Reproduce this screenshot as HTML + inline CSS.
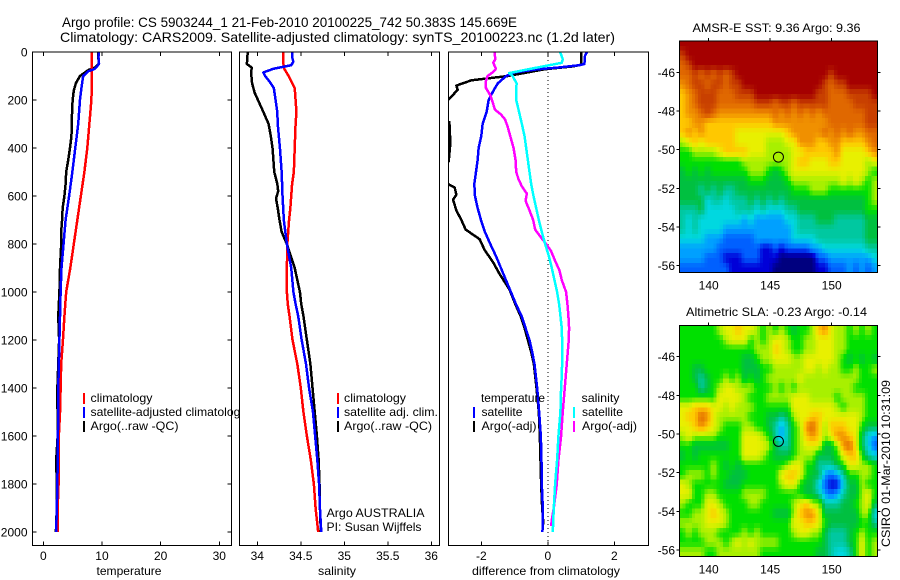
<!DOCTYPE html>
<html>
<head>
<meta charset="utf-8">
<style>
html,body{margin:0;padding:0;background:#fff;}
svg{display:block;}
text{font-family:"Liberation Sans",sans-serif;font-size:12px;fill:#000;}
.title{font-size:14px;}
</style>
</head>
<body>
<svg id="chart" xmlns="http://www.w3.org/2000/svg" width="900" height="580" viewBox="0 0 900 580">
  <rect width="900" height="580" fill="#fff"/>
  <text class="title" x="62" y="27" textLength="455" lengthAdjust="spacingAndGlyphs">Argo profile: CS 5903244_1 21-Feb-2010 20100225_742 50.383S 145.669E</text>
  <text class="title" x="60" y="42" textLength="555" lengthAdjust="spacingAndGlyphs">Climatology: CARS2009. Satellite-adjusted climatology: synTS_20100223.nc (1.2d later)</text>
  <g id="layer-panels"></g>
  <g id="layer-maps"></g>
  <g id="layer-legend">
    <text x="129" y="575" text-anchor="middle" textLength="65" lengthAdjust="spacingAndGlyphs">temperature</text>
    <text x="337" y="575" text-anchor="middle" textLength="38" lengthAdjust="spacingAndGlyphs">salinity</text>
    <text x="546" y="575" text-anchor="middle" textLength="148" lengthAdjust="spacingAndGlyphs">difference from climatology</text>

    <rect x="83" y="393" width="2" height="11" fill="#f00"/>
    <rect x="83" y="407" width="2" height="11" fill="#00f"/>
    <rect x="83" y="421" width="2" height="11" fill="#000"/>
    <text x="90.5" y="402" textLength="62" lengthAdjust="spacingAndGlyphs">climatology</text>
    <text x="90.5" y="416" textLength="156" lengthAdjust="spacingAndGlyphs">satellite-adjusted climatology</text>
    <text x="90.5" y="430" textLength="88" lengthAdjust="spacingAndGlyphs">Argo(..raw -QC)</text>
  </g>
  <g id="layer-over">
    <rect x="337" y="393" width="2" height="11" fill="#f00"/>
    <rect x="337" y="407" width="2" height="11" fill="#00f"/>
    <rect x="337" y="421" width="2" height="11" fill="#000"/>
    <text x="344" y="402" textLength="62" lengthAdjust="spacingAndGlyphs">climatology</text>
    <text x="344" y="416" textLength="94" lengthAdjust="spacingAndGlyphs">satellite adj. clim.</text>
    <text x="344" y="430" textLength="88" lengthAdjust="spacingAndGlyphs">Argo(..raw -QC)</text>
    <text x="326.5" y="517" textLength="98" lengthAdjust="spacingAndGlyphs">Argo AUSTRALIA</text>
    <text x="326.5" y="531" textLength="95" lengthAdjust="spacingAndGlyphs">PI: Susan Wijffels</text>

    <text x="481" y="402" textLength="64" lengthAdjust="spacingAndGlyphs">temperature</text>
    <rect x="473" y="407" width="2" height="11" fill="#00f"/>
    <rect x="473" y="421" width="2" height="11" fill="#000"/>
    <text x="481.5" y="416" textLength="41" lengthAdjust="spacingAndGlyphs">satellite</text>
    <text x="481.5" y="430" textLength="55" lengthAdjust="spacingAndGlyphs">Argo(-adj)</text>
    <text x="581.5" y="402" textLength="38" lengthAdjust="spacingAndGlyphs">salinity</text>
    <rect x="573" y="407" width="2" height="11" fill="#0ff"/>
    <rect x="573" y="421" width="2" height="11" fill="#f0f"/>
    <text x="582" y="416" textLength="41" lengthAdjust="spacingAndGlyphs">satellite</text>
    <text x="582" y="430" textLength="55" lengthAdjust="spacingAndGlyphs">Argo(-adj)</text>

    <text x="776.5" y="32" text-anchor="middle" textLength="168" lengthAdjust="spacingAndGlyphs">AMSR-E SST: 9.36 Argo: 9.36</text>
    <text x="776.5" y="316" text-anchor="middle" textLength="181" lengthAdjust="spacingAndGlyphs">Altimetric SLA: -0.23 Argo: -0.14</text>
    <text transform="translate(890,547) rotate(-90)" textLength="167" lengthAdjust="spacingAndGlyphs">CSIRO 01-Mar-2010 10:31:09</text>
  </g>
</svg>
<script>
// ---------- Chart data ----------
const depthTicks = [0,200,400,600,800,1000,1200,1400,1600,1800,2000];
const temperatureTicks = [0,10,20,30];
const salinityTicks = [34,34.5,35,35.5,36];
const salinityTickLabels = ['34','34.5','35','35.5','36'];
const differenceTicks = [-2,0,2];
const lonTicks = [140,145,150];
const latTicks = [46,48,50,52,54,56];

const tempClimDepth = [0,100,200,300,400,500,600,700,800,900,1000,1100,1200,1300,1400,1500,1600,1800,1900,2000];
const tempClimValue = [8.3,8.3,8.2,7.85,7.5,7.0,6.4,5.8,5.2,4.6,3.9,3.6,3.35,3.05,2.95,2.85,2.65,2.6,2.45,2.45];
const tempSatDepth = [0,20,50,70,80,100,150,200,300,400,500,600,700,800,900,1000,1200,1400,1600,1800,2000];
const tempSatValue = [9.5,9.4,9.5,8.8,7.7,6.8,6.5,6.25,5.95,5.45,4.95,4.4,3.8,3.45,3.1,2.95,2.75,2.55,2.5,2.4,2.2];
const tempArgoDepth = [0,50,65,75,100,130,160,200,250,300,350,400,450,500,550,600,650,700,750,800,850,900,1000,1100,1200,1400,1600,1700,1800,1900,2000];
const tempArgoValue = [9.35,9.45,8.8,7.7,6.25,5.55,5.2,5.0,4.9,4.85,4.8,4.55,4.25,3.9,3.8,3.6,3.3,3.2,3.05,3.05,2.95,2.85,2.75,2.55,2.7,2.4,2.45,2.2,2.3,2.3,2.15];

const salClimDepth = [0,50,70,100,150,200,250,300,400,500,550,600,650,700,750,800,900,1000,1050,1100,1200,1300,1400,1500,1600,1700,1800,1900,2000];
const salClimValue = [34.3,34.3,34.31,34.36,34.43,34.44,34.45,34.44,34.43,34.42,34.4,34.39,34.38,34.365,34.355,34.345,34.34,34.34,34.35,34.37,34.405,34.46,34.5,34.53,34.57,34.615,34.65,34.67,34.7];
const salSatDepth = [0,30,40,55,70,85,100,125,150,200,250,300,400,500,600,700,800,900,1000,1050,1100,1200,1300,1400,1500,1600,1700,1800,1900,2000];
const salSatValue = [34.4,34.405,34.415,34.39,34.185,34.07,34.09,34.145,34.19,34.21,34.23,34.235,34.26,34.28,34.29,34.305,34.34,34.39,34.415,34.44,34.47,34.51,34.56,34.595,34.64,34.665,34.69,34.71,34.72,34.735];
const salArgoDepth = [0,50,65,90,130,170,210,250,300,350,400,450,500,550,580,610,650,700,750,800,850,900,950,1000,1050,1100,1200,1300,1400,1500,1600,1700,1800,1900,2000];
const salArgoValue = [33.89,33.88,33.935,33.93,33.94,33.97,34.02,34.07,34.13,34.155,34.175,34.185,34.195,34.23,34.24,34.215,34.235,34.255,34.28,34.34,34.385,34.43,34.46,34.49,34.505,34.53,34.57,34.61,34.635,34.66,34.685,34.705,34.715,34.72,34.73];

const diffTempArgoDepth = [0,53,60,72,100,118,140,158,197,220,290,292,380,455,480,550,565,595,615,660,700,740,780,825,875,925,990,1050,1100,1150,1200,1250,1300,1400,1500,1600,1700,1800,1900,1970];
const diffTempArgoValue = [1.0,1.0,0.75,-0.1,-1.2,-2.3,-2.75,-2.71,-2.98,-3.2,-3.2,-2.96,-2.93,-2.98,-3.2,-3.0,-2.8,-2.75,-2.85,-2.75,-2.6,-2.47,-2.05,-1.9,-1.65,-1.45,-1.15,-0.98,-0.82,-0.7,-0.6,-0.5,-0.42,-0.34,-0.27,-0.24,-0.22,-0.2,-0.17,-0.13];
const diffTempSatDepth = [0,15,50,55,65,72,85,100,130,160,200,250,300,350,400,450,500,550,600,650,700,750,800,850,900,950,1000,1050,1100,1150,1200,1250,1300,1400,1500,1600,1700,1800,1900,2000];
const diffTempSatValue = [1.18,1.12,1.1,0.95,0.3,-0.3,-1.0,-1.25,-1.5,-1.63,-1.78,-1.84,-1.96,-2.0,-2.08,-2.11,-2.16,-2.21,-2.19,-2.11,-2.01,-1.89,-1.73,-1.56,-1.41,-1.26,-1.11,-0.96,-0.79,-0.67,-0.55,-0.47,-0.4,-0.32,-0.26,-0.21,-0.19,-0.18,-0.15,-0.16];
const diffSalArgoDepth = [0,30,45,70,85,100,125,150,180,200,240,260,280,310,350,400,450,500,530,560,590,620,660,700,740,770,800,830,870,910,950,1000,1050,1100,1150,1200,1250,1300,1350,1400,1450,1500,1600,1700,1800,1900,1950,1975];
const diffSalArgoValue = [-1.6,-1.58,-1.64,-1.56,-1.66,-1.81,-1.87,-1.86,-1.73,-1.68,-1.59,-1.41,-1.29,-1.21,-1.13,-1.03,-0.97,-0.95,-0.88,-0.78,-0.63,-0.67,-0.55,-0.44,-0.38,-0.22,-0.05,0.1,0.22,0.35,0.42,0.55,0.59,0.62,0.64,0.63,0.6,0.57,0.54,0.51,0.48,0.45,0.4,0.32,0.27,0.18,0.12,0.1];
const diffSalSatDepth = [0,30,45,75,88,100,130,200,240,300,350,400,450,500,550,600,650,700,750,800,850,900,950,1000,1050,1100,1150,1200,1300,1350,1400,1500,1550,1600,1700,1800,1900,2000];
const diffSalSatValue = [0.37,0.45,0.42,-0.7,-1.16,-1.06,-0.94,-0.95,-0.88,-0.78,-0.7,-0.65,-0.6,-0.55,-0.5,-0.43,-0.35,-0.27,-0.18,-0.08,0.03,0.12,0.2,0.28,0.34,0.38,0.42,0.43,0.43,0.42,0.4,0.38,0.35,0.32,0.28,0.22,0.18,0.15];

// Map values, expressed in colour-scale levels (0 = coldest/lowest, 14 = warmest/highest)
const sstCells = [
[14,14,14,14,14,14,14,14,14,14,14,14,14,14,14,14,14,14,14,14,14,14,14,14,14,14,14,14,14,14,14,14],
[13,14,14,14,14,14,14,14,14,14,14,14,14,14,14,14,14,14,14,14,14,14,14,14,14,14,14,14,14,14,14,14],
[12,13,14,14,14,14,14,14,14,14,14,14,14,14,14,14,14,14,14,14,14,14,14,14,14,14,14,14,14,14,14,14],
[12,12,13,12,13,12,13,12,13,14,14,14,14,14,14,14,14,14,14,14,14,14,14,14,13,14,14,14,14,14,14,14],
[11,12,13,13,12,13,13,12,13,13,14,14,14,14,14,14,14,14,14,14,14,14,14,13,12,13,13,14,14,14,14,14],
[10,11,12,13,13,13,12,12,12,13,13,13,14,14,14,14,14,14,14,14,14,14,13,13,12,12,12,13,13,13,13,14],
[10,11,12,13,13,13,12,12,12,12,12,12,13,13,13,12,13,13,12,13,13,13,13,13,12,12,12,12,13,13,13,13],
[10,11,11,12,13,12,11,11,11,11,11,11,11,11,11,12,11,12,11,12,11,12,11,12,12,12,12,12,12,12,13,13],
[10,10,11,11,10,10,10,10,10,10,10,10,10,10,10,11,11,11,11,11,11,11,11,11,12,12,12,12,12,12,13,13],
[10,11,10,11,10,10,10,10,10,9,9,9,9,9,9,9,9,10,11,11,11,11,11,12,11,12,11,12,11,11,12,12],
[8,9,10,9,10,10,10,10,10,9,9,9,9,9,8,8,8,9,9,11,11,11,10,10,11,11,10,10,10,10,11,12],
[7,7,8,8,8,8,9,10,10,10,10,9,9,9,8,8,8,8,9,9,10,10,10,10,10,11,9,9,9,9,10,11],
[7,7,7,7,7,7,7,7,7,7,8,8,8,8,8,8,8,8,9,10,10,9,9,9,10,10,9,9,9,9,8,9],
[6,7,6,7,6,7,7,7,7,7,7,8,8,8,7,6,7,8,9,9,9,9,9,9,9,9,9,9,9,9,8,7],
[6,6,6,6,6,6,6,6,6,6,6,7,7,7,6,6,6,7,8,8,8,8,8,8,8,8,9,8,9,8,7,8],
[6,6,6,5,6,5,6,5,5,6,6,6,6,6,6,6,6,6,7,7,7,8,8,8,7,7,7,7,7,7,7,8],
[6,6,6,6,4,5,5,4,5,5,5,6,5,6,5,6,5,6,6,6,6,6,6,6,6,6,6,6,6,6,7,8],
[5,5,5,6,4,4,4,4,4,5,5,5,4,5,4,4,4,5,5,6,6,6,6,6,6,6,6,6,6,6,7,7],
[5,4,5,4,4,4,4,4,4,4,3,4,3,3,3,3,3,4,4,5,5,5,6,6,6,5,5,5,5,5,6,6],
[5,4,5,4,4,4,4,3,3,3,3,3,3,3,3,3,3,3,4,5,5,5,5,5,5,5,5,5,5,5,6,6],
[4,4,4,4,3,3,3,2,2,2,2,2,3,3,3,3,3,3,4,4,4,4,5,5,5,5,5,5,5,5,6,6],
[3,3,3,3,3,3,2,2,2,2,2,2,2,1,1,2,1,2,2,2,2,3,3,4,4,4,4,4,4,4,5,5],
[3,3,3,3,2,2,2,1,1,1,2,2,2,1,1,1,0,0,0,0,0,0,2,2,3,3,3,3,3,3,3,4],
[2,2,2,2,2,2,2,2,1,1,1,1,1,1,1,0,0,0,0,0,0,0,1,1,2,2,2,3,2,3,2,3]
];
const slaCells = [
[7,7,7,7,7,7,8,9,9,10,9,9,8,7,8,7,8,7,6,7,7,8,10,11,9,8,8,7,8,7,8,7],
[7,7,7,7,7,7,7,8,9,9,9,7,8,7,8,9,9,8,7,7,8,8,9,9,9,8,8,7,7,7,7,7],
[7,7,7,7,7,7,7,7,7,7,7,7,8,8,8,10,9,8,7,7,8,8,9,9,9,8,8,7,7,7,7,7],
[7,7,7,7,7,7,7,7,7,7,6,6,7,8,8,9,9,9,8,8,9,9,9,9,9,8,7,6,7,6,7,6],
[7,7,6,6,7,7,7,7,7,7,6,6,6,7,7,8,8,8,8,8,9,9,8,9,8,8,7,7,8,7,7,8],
[7,7,6,5,6,7,7,8,7,8,6,7,6,7,8,8,8,8,8,9,8,8,8,8,8,8,8,8,8,7,7,7],
[7,7,7,5,6,7,8,9,9,8,8,8,7,7,7,8,7,8,7,8,8,8,8,8,8,8,8,8,7,7,7,7],
[7,7,7,7,7,7,9,9,9,9,8,7,7,7,8,8,8,8,9,9,9,8,8,8,8,7,8,8,8,8,7,7],
[9,9,10,10,10,9,9,8,9,8,8,8,7,7,7,7,7,7,9,9,9,9,9,9,9,8,7,8,8,8,7,7],
[9,10,10,12,11,9,8,8,8,8,8,7,7,7,6,6,5,6,8,9,9,10,10,9,9,9,9,9,9,8,7,7],
[9,9,10,11,10,9,8,7,7,7,8,8,7,7,6,5,3,5,7,8,11,12,10,8,10,10,10,9,9,7,6,6],
[8,9,8,8,8,8,7,7,7,7,9,9,9,8,7,5,3,5,7,8,10,11,10,8,9,11,11,10,9,6,4,3],
[7,7,6,6,6,6,6,6,7,7,9,9,9,9,8,6,5,5,7,8,9,9,9,6,6,8,11,12,9,6,4,2],
[6,7,6,7,7,7,7,7,7,7,9,9,9,8,7,6,6,6,7,8,8,8,6,6,6,7,9,10,10,7,5,4],
[7,7,7,7,7,8,7,6,7,6,7,7,7,7,7,7,7,8,9,9,7,7,5,5,5,6,7,9,9,8,8,7],
[7,8,8,8,7,8,7,7,6,6,6,7,7,7,7,7,9,10,10,9,7,6,6,3,2,3,5,7,7,8,8,7],
[9,8,7,7,7,7,7,6,6,6,7,7,7,7,7,7,8,9,9,7,6,6,4,2,1,1,4,6,6,8,7,7],
[9,9,7,7,8,8,7,7,7,7,8,8,8,8,7,7,7,7,7,7,6,6,5,3,2,3,5,6,6,8,9,7],
[8,7,7,7,9,9,8,7,7,7,7,8,8,7,7,7,7,7,8,9,10,8,8,5,5,5,6,6,7,8,9,6],
[7,7,8,8,9,10,9,8,7,7,7,7,7,7,7,6,6,6,8,10,11,11,9,6,6,6,6,6,6,8,8,4],
[8,8,8,8,9,9,9,8,7,7,7,7,7,7,7,7,7,7,9,9,10,10,9,7,6,6,6,6,6,7,7,5],
[7,8,7,8,8,8,7,7,7,7,8,7,8,7,7,7,7,7,8,9,9,8,8,6,5,5,5,6,7,8,7,7],
[7,7,7,7,8,8,8,7,8,9,8,9,8,8,8,8,7,7,7,7,7,7,7,6,5,5,5,6,7,9,7,8],
[8,8,8,8,7,7,8,8,8,8,8,8,8,7,7,7,7,7,7,7,7,7,6,6,5,4,4,5,7,9,7,8]
];
const floatLon = 145.669;
const floatLat = 50.383;

// ---------- Helpers ----------
const NS = 'http://www.w3.org/2000/svg';
function mk(parent, tag, attrs, txt){
  const el = document.createElementNS(NS, tag);
  for (const k in attrs) el.setAttribute(k, attrs[k]);
  if (txt !== undefined) el.textContent = txt;
  parent.appendChild(el);
  return el;
}
function linear(d0, r0, d1, r1){ return v => r0 + (v - d0) * (r1 - r0) / (d1 - d0); }
const depthY = linear(0, 52, 2000, 532);
const PANEL_TOP = 52, PANEL_BOTTOM = 545.5;
const panelsLayer = document.getElementById('layer-panels');
const mapsLayer = document.getElementById('layer-maps');

function drawPanel(cfg){
  const g = mk(panelsLayer, 'g', {});
  
  
  const bg = mk(g, 'rect', {x:cfg.left, y:PANEL_TOP, width:cfg.right-cfg.left, height:PANEL_BOTTOM-PANEL_TOP, fill:'#fff'});
  
  
  const clipId = cfg.name + '-clip';
  const cp = mk(g, 'clipPath', {id:clipId});
  mk(cp, 'rect', {x:cfg.left, y:PANEL_TOP, width:cfg.right-cfg.left, height:PANEL_BOTTOM-PANEL_TOP});
  return {g, clipId};
}
function drawFrame(cfg, g){
  const fr = mk(g, 'rect', {x:cfg.left, y:PANEL_TOP, width:cfg.right-cfg.left, height:PANEL_BOTTOM-PANEL_TOP, fill:'none', stroke:'#000', 'stroke-width':1, 'shape-rendering':'crispEdges'});
  
  
  cfg.xTicks.forEach((t, i) => {
    const x = cfg.xScale(t);
    const top = mk(g, 'line', {x1:x, x2:x, y1:PANEL_TOP, y2:PANEL_TOP+4, stroke:'#000', 'shape-rendering':'crispEdges'});
    
    
    const bot = mk(g, 'line', {x1:x, x2:x, y1:PANEL_BOTTOM-4, y2:PANEL_BOTTOM, stroke:'#000', 'shape-rendering':'crispEdges'});
    
    
    const lab = mk(g, 'text', {x:x, y:560, 'text-anchor':'middle'}, cfg.xLabels ? cfg.xLabels[i] : String(t));
    
    
  });
}
function drawSeries(g, clipId, depths, values, xScale, color, name){
  const pts = depths.map((d, i) => xScale(values[i]).toFixed(2) + ',' + depthY(d).toFixed(2)).join(' ');
  const pl = mk(g, 'polyline', {points:pts, fill:'none', stroke:color, 'stroke-width':2.5, 'stroke-linejoin':'round', 'shape-rendering':'crispEdges', 'clip-path':'url(#' + clipId + ')'});
  
  
}

// ---------- Temperature panel ----------
const tempCfg = {name:'temperature', left:32.5, right:231.5, xScale:linear(0,43.3,30,219.3), xTicks:temperatureTicks};
const tempP = drawPanel(tempCfg);
drawSeries(tempP.g, tempP.clipId, tempArgoDepth, tempArgoValue, tempCfg.xScale, '#000', 'temperature-argo-line');
drawSeries(tempP.g, tempP.clipId, tempClimDepth, tempClimValue, tempCfg.xScale, '#f00', 'temperature-climatology-line');
drawSeries(tempP.g, tempP.clipId, tempSatDepth, tempSatValue, tempCfg.xScale, '#00f', 'temperature-satellite-line');
drawFrame(tempCfg, tempP.g);
depthTicks.forEach(d => {
  const y = depthY(d);
  const l = mk(tempP.g, 'line', {x1:tempCfg.left, x2:tempCfg.left+4, y1:y, y2:y, stroke:'#000', 'shape-rendering':'crispEdges'});
  
  
  const r = mk(tempP.g, 'line', {x1:tempCfg.right-4, x2:tempCfg.right, y1:y, y2:y, stroke:'#000', 'shape-rendering':'crispEdges'});
  
  
  const t = mk(tempP.g, 'text', {x:27.5, y:y+4.5, 'text-anchor':'end'}, String(d));
  
  
});

// move legend of the temperature panel above its lines but beneath next panel
const legendLayer = document.getElementById('layer-legend');
panelsLayer.appendChild(legendLayer);

// ---------- Salinity panel ----------
const salCfg = {name:'salinity', left:239.5, right:439.5, xScale:linear(34,257.3,36,431.3), xTicks:salinityTicks, xLabels:salinityTickLabels};
const salP = drawPanel(salCfg);
drawSeries(salP.g, salP.clipId, salArgoDepth, salArgoValue, salCfg.xScale, '#000', 'salinity-argo-line');
drawSeries(salP.g, salP.clipId, salClimDepth, salClimValue, salCfg.xScale, '#f00', 'salinity-climatology-line');
drawSeries(salP.g, salP.clipId, salSatDepth, salSatValue, salCfg.xScale, '#00f', 'salinity-satellite-line');
drawFrame(salCfg, salP.g);

// ---------- Difference panel ----------
const diffCfg = {name:'difference', left:448.5, right:648.5, xScale:linear(-2,481.3,2,614.3), xTicks:differenceTicks};
const diffP = drawPanel(diffCfg);
const zeroLine = mk(diffP.g, 'line', {x1:diffCfg.xScale(0), x2:diffCfg.xScale(0), y1:PANEL_TOP, y2:PANEL_BOTTOM, stroke:'#000', 'stroke-dasharray':'1 3', 'shape-rendering':'crispEdges'});


drawSeries(diffP.g, diffP.clipId, diffTempArgoDepth, diffTempArgoValue, diffCfg.xScale, '#000', 'difference-temperature-argo-line');
drawSeries(diffP.g, diffP.clipId, diffTempSatDepth, diffTempSatValue, diffCfg.xScale, '#00f', 'difference-temperature-satellite-line');
drawSeries(diffP.g, diffP.clipId, diffSalArgoDepth, diffSalArgoValue, diffCfg.xScale, '#f0f', 'difference-salinity-argo-line');
drawSeries(diffP.g, diffP.clipId, diffSalSatDepth, diffSalSatValue, diffCfg.xScale, '#0ff', 'difference-salinity-satellite-line');
drawFrame(diffCfg, diffP.g);

// ---------- Maps ----------
const palette = ['#00007f','#0000d8','#0060ff','#00a0ff','#00d8e0','#00c8a0','#00c040','#00e000','#a8f000','#e8f000','#ffc800','#f09000','#e06800','#c84000','#a50000'];
function levelColor(v){
  const c = Math.max(0, Math.min(palette.length - 1, v));
  const i = Math.min(palette.length - 2, Math.floor(c));
  const f = c - i;
  const a = palette[i], b = palette[i + 1];
  const ch = s => [1,3,5].map(p => parseInt(s.substr(p, 2), 16));
  const A = ch(a), B = ch(b);
  return 'rgb(' + A.map((x, k) => Math.round(x + (B[k] - x) * f)).join(',') + ')';
}
// Sample the grid between cell centres, as the source map's finer shading does.
function sampleGrid(cells, u, v){
  const rows = cells.length, cols = cells[0].length;
  const uu = Math.max(0, Math.min(cols - 1, u - 0.5));
  const vv = Math.max(0, Math.min(rows - 1, v - 0.5));
  const i = Math.min(cols - 2, Math.floor(uu)), j = Math.min(rows - 2, Math.floor(vv));
  const fu = uu - i, fv = vv - j;
  return cells[j][i] * (1 - fu) * (1 - fv) + cells[j][i + 1] * fu * (1 - fv) +
         cells[j + 1][i] * (1 - fu) * fv + cells[j + 1][i + 1] * fu * fv;
}
function drawMap(name, cells, top, bottom){
  const left = 679.5, right = 877.5;
  const lonX = linear(140, 708.7, 150, 831.7);
  const latY = linear(46, top + 31.3, 56, top + 224.7);
  const g = mk(mapsLayer, 'g', {});
  
  
  const rows = cells.length, cols = cells[0].length;
  const sub = 2;
  const cw = (right - left) / (cols * sub), ch = (bottom - top) / (rows * sub);
  for (let j = 0; j < rows * sub; j++) {
    for (let i = 0; i < cols * sub; i++) {
      const v = sampleGrid(cells, (i + 0.5) / sub, (j + 0.5) / sub);
      const r = mk(g, 'rect', {x:(left + i * cw).toFixed(2), y:(top + j * ch).toFixed(2), width:(cw + 0.5).toFixed(2), height:(ch + 0.5).toFixed(2), fill:levelColor(v), 'shape-rendering':'crispEdges'});
      
      
    }
  }
  const fr = mk(g, 'rect', {x:left, y:top, width:right-left, height:bottom-top, fill:'none', stroke:'#000', 'shape-rendering':'crispEdges'});
  
  
  lonTicks.forEach(t => {
    const x = lonX(t);
    const tk = mk(g, 'line', {x1:x, x2:x, y1:top-3, y2:top, stroke:'#000', 'shape-rendering':'crispEdges'});
    
    
    const lb = mk(g, 'text', {x:x, y:bottom+17, 'text-anchor':'middle'}, String(t));
    
    
  });
  latTicks.forEach(t => {
    const y = latY(t);
    const tl = mk(g, 'line', {x1:left-3, x2:left, y1:y, y2:y, stroke:'#000', 'shape-rendering':'crispEdges'});
    
    
    const tr = mk(g, 'line', {x1:right, x2:right+3, y1:y, y2:y, stroke:'#000', 'shape-rendering':'crispEdges'});
    
    
    const lb = mk(g, 'text', {x:675, y:y+4.5, 'text-anchor':'end'}, '-' + t);
    
    
  });
  const mark = mk(g, 'circle', {cx:lonX(floatLon), cy:latY(floatLat), r:5, fill:'none', stroke:'#000', 'stroke-width':1});
  
  
}
drawMap('sst', sstCells, 41, 272.5);
drawMap('sla', slaCells, 325.3, 556.7);
</script>
</body>
</html>
